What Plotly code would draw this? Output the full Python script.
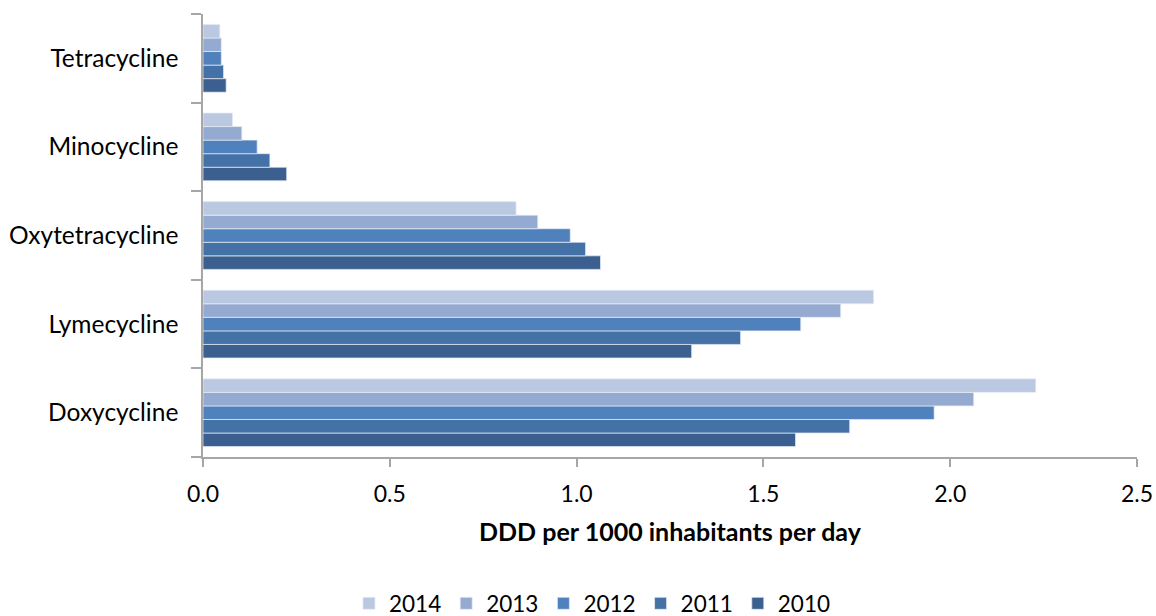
import plotly.graph_objects as go

categories = ["Doxycycline", "Lymecycline", "Oxytetracycline", "Minocycline", "Tetracycline"]
years = ["2010", "2011", "2012", "2013", "2014"]
values = {
    "2010": [1.586, 1.308, 1.064, 0.224, 0.062],
    "2011": [1.731, 1.439, 1.024, 0.179, 0.055],
    "2012": [1.957, 1.600, 0.983, 0.145, 0.049],
    "2013": [2.063, 1.707, 0.896, 0.104, 0.049],
    "2014": [2.229, 1.795, 0.838, 0.079, 0.045],
}
colors = {
    "2010": "#3B5F8F",
    "2011": "#4471A6",
    "2012": "#4F81BD",
    "2013": "#95AAD1",
    "2014": "#BAC8E2",
}
x_ticks = [0.0, 0.5, 1.0, 1.5, 2.0, 2.5]
x_title = "DDD per 1000 inhabitants per day"

fig = go.Figure()
for yr in years:
    fig.add_trace(go.Bar(
        y=categories, x=values[yr], name=yr, orientation="h",
        marker=dict(color=colors[yr], line=dict(color="rgba(230,235,245,0.9)", width=0.8)),
    ))

font_family = "Lato, 'Open Sans', sans-serif"
fig.update_layout(
    width=1156, height=616,
    margin=dict(l=203, r=19, t=14, b=159),
    paper_bgcolor="white", plot_bgcolor="white",
    barmode="group", bargap=0.235, bargroupgap=0,
    font=dict(family=font_family, size=24, color="#000000"),
    showlegend=True,
    legend=dict(orientation="h", traceorder="reversed", x=0.417, xanchor="center",
                yref="container", y=0.02, yanchor="middle", font=dict(size=22.5),
                itemwidth=30, tracegroupgap=0),
    xaxis=dict(range=[0, 2.5], tickvals=x_ticks, ticktext=[f"{v:.1f}" for v in x_ticks],
               showgrid=False, zeroline=False, showline=True, linecolor="#A6A6A6", linewidth=1.5,
               ticks="outside", ticklen=8, tickcolor="#A6A6A6", tickwidth=1.5,
               tickfont=dict(size=23), fixedrange=True, automargin=False,
               ticklabelstandoff=8,
               title=dict(text="<b>" + x_title + "</b>", font=dict(size=25), standoff=17)),
    yaxis=dict(type="category", categoryorder="array", categoryarray=categories,
               showgrid=False, zeroline=False, showline=True, linecolor="#A6A6A6", linewidth=1.5,
               ticks="outside", ticklen=10, tickcolor="#A6A6A6", tickwidth=1.5,
               tickson="boundaries", ticklabelstandoff=18, automargin=False,
               tickfont=dict(size=24.5)),
)

fig.write_html("out.html",
               config={"displayModeBar": False},
               post_script="document.body.style.margin='0';document.body.style.overflow='hidden';")
